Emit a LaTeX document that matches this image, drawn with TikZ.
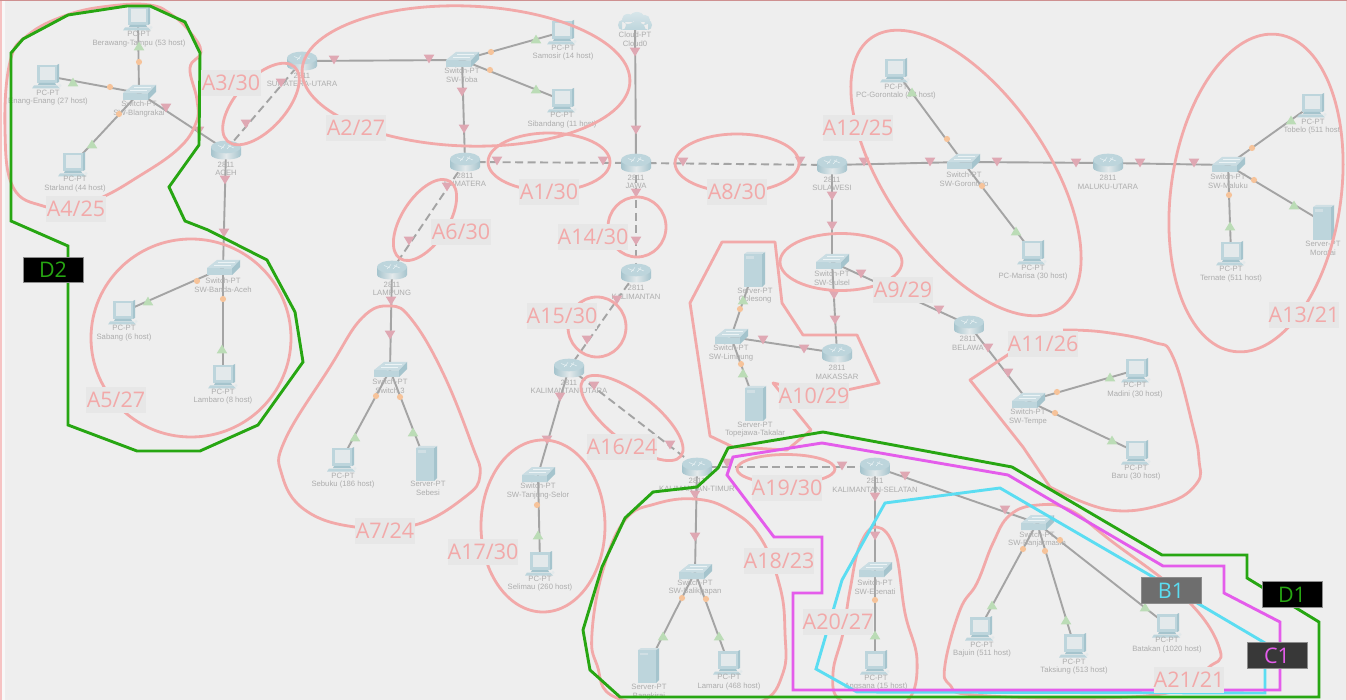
\documentclass[tikz,border=0pt]{standalone}
\usepackage{fontspec}
\setmainfont{Liberation Sans}
\newfontfamily\labfont{Open Sans}
\pgfdeclarelayer{bgl}\pgfdeclarelayer{linkl}\pgfsetlayers{bgl,linkl,main}
\definecolor{bgc}{HTML}{EEEEEE}
\definecolor{linkc}{HTML}{A4A4A4}
\definecolor{txtc}{HTML}{ADADAD}
\definecolor{pk}{HTML}{F2A9A9}
\definecolor{pkm}{HTML}{DFA8B3}
\definecolor{grm}{HTML}{BBDCB6}
\definecolor{orm}{HTML}{F6C39A}
\definecolor{grl}{HTML}{27A612}
\definecolor{mag}{HTML}{E45CEB}
\definecolor{cya}{HTML}{5BDDF2}
\definecolor{ic}{HTML}{BDD5DC}
\definecolor{icd}{HTML}{A5C4CD}
\definecolor{icl}{HTML}{E3E9EB}
\tikzset{
 devp/.style={inner sep=0pt,outer sep=0pt,minimum size=0pt},
 devt/.style={inner sep=0pt,text=txtc,align=center,font=\fontsize{7.7}{8.6}\selectfont},
 lnk/.style={draw=linkc,line width=1.9pt},
 dlnk/.style={lnk,dash pattern=on 8pt off 4.5pt},
 area/.style={draw=pk,line width=2.8pt,line join=round},
 zone/.style={line width=2.9pt,line join=miter},
 alab/.style={fill=black!3!bgc,text=pk,minimum width=60pt,minimum height=25.5pt,inner sep=0pt,font=\labfont\fontsize{21.5}{24}\selectfont},
 dlab/.style={minimum width=60pt,minimum height=25.5pt,inner sep=0pt,draw=black!45,line width=.6pt,font=\labfont\fontsize{21.5}{24}\selectfont},
 router/.pic={
  \path[left color=icd,right color=icd,middle color=icl] (-15,-3) -- (-15,5) arc[start angle=180,end angle=0,x radius=15,y radius=4.5] -- (15,-3) -- cycle;
  \path[fill=ic] (0,-3) circle[x radius=15,y radius=6.3];
  \draw[white!70!ic,line width=.5pt] (-8,-4.5) -- (-2,-2) (8,-2) -- (2,-4.5) (-5,-1) -- (-1,-5.5) (5,-5.5) -- (1,-1);
 },
 switchd/.pic={
  \path[fill=ic!80!white] (-16,0) -- (-6,-8) -- (17,-8) -- (9,0.5) -- cycle;
  \path[fill=ic] (-16,0) -- (9,0.5) -- (9,7) -- (-16,7) -- cycle;
  \path[fill=icd] (9,0.5) -- (17,-8) -- (17,-1) -- (9,7) -- cycle;
  \draw[white!70!ic,line width=.4pt] (-9,-3) -- (8,-3) (-5,-6) -- (12,-6);
 },
 pcd/.pic={
  \path[fill=icd] (10,-11) -- (12,-12) -- (12,6) -- (10,7) -- cycle;
  \path[fill=ic] (-10,-11) rectangle (10,7);
  \path[fill=icl] (-7.5,-8.5) rectangle (8,4);
  \path[fill=icd] (-8,7) -- (8,7) -- (9,9) -- (-9,9) -- cycle;
  \path[fill=ic] (-13,9.5) -- (10,9.5) -- (13,12.5) -- (-15,12.5) -- cycle;
  \path[fill=icl] (13,9.5) circle[radius=1.6];
 },
 srv/.pic={
  \path[fill=icd] (8,-15) -- (11,-17) -- (11,15) -- (8,18) -- cycle;
  \path[fill=icl!50!ic] (-10,-15) -- (-7,-17) -- (11,-17) -- (8,-15) -- cycle;
  \path[fill=ic] (-10,-15) rectangle (8,18);
  \path[fill=icl!50!ic] (-8,-12.5) rectangle (0,-10);
 },
 cloudd/.pic={
  \path[top color=ic!60!white,bottom color=ic] (-13,3) circle[x radius=4,y radius=5] (-7,-3) circle[x radius=6,y radius=5] (2,-5) circle[x radius=7,y radius=5] (10,-2) circle[radius=5] (13,3) circle[x radius=4,y radius=5] (-13,0) rectangle (13,8);
 }
}
\newcommand{\dev}[7]{\node[devp] (#2) at (#3,#4) {}; \pic at (#2) {#1}; \node[devt] (#2l) at (#5,#6) {#7};}
\begin{document}
\begin{tikzpicture}[x=1pt,y=-1pt]
\useasboundingbox (0,0) rectangle (1347,700);
\begin{pgfonlayer}{bgl}
\fill[bgc] (0,0) rectangle (1347,700);
\fill[white!60!bgc] (0,0) rectangle (5,700);
\fill[pk!70!white] (0,0) rectangle (1.5,700);
\fill[pk!70!white] (1345.5,0) rectangle (1347,700);
\fill[pk!85!black] (0,0) rectangle (1347,1);
\end{pgfonlayer}
% devices
\dev{pcd}{berawang}{138}{18}{139}{39}{PC-PT\\Berawang-Tampu (53 host)}
\dev{pcd}{enang}{47}{76}{48}{97.5}{PC-PT\\Enang-Enang (27 host)}
\dev{switchd}{blang}{139}{93}{139}{109}{Switch-PT\\SW-Blangrakai}
\dev{pcd}{starland}{73}{164}{75}{184}{PC-PT\\Starland (44 host)}
\dev{router}{aceh}{226}{150}{226}{169}{2811\\ACEH}
\dev{router}{sumut}{302}{61}{302}{80}{2811\\SUMATERA-UTARA}
\dev{switchd}{toba}{462}{60}{462}{75.5}{Switch-PT\\SW-Toba}
\dev{pcd}{samosir}{562}{32}{563}{52.5}{PC-PT\\Samosir (14 host)}
\dev{pcd}{sibandang}{562}{100}{562}{120}{PC-PT\\Sibandang (11 host)}
\dev{cloudd}{cloud}{635}{22}{635}{39}{Cloud-PT\\Cloud0}
\dev{router}{sumatera}{465}{162}{465}{180}{2811\\SUMATERA}
\dev{router}{java}{636}{163}{636}{182}{2811\\JAWA}
\dev{router}{sulawesi}{832}{165}{832}{184}{2811\\SULAWESI}
\dev{switchd}{gorontalo}{963}{162}{964}{179.5}{Switch-PT\\SW-Gorontalo}
\dev{pcd}{pcgor}{895}{70}{896}{91.5}{PC-PT\\PC-Gorontalo (93 host)}
\dev{pcd}{pcmarisa}{1032}{252}{1033}{272.5}{PC-PT\\PC-Marisa (30 host)}
\dev{router}{maluku}{1108}{163}{1108}{182.5}{2811\\MALUKU-UTARA}
\dev{switchd}{swmaluku}{1228}{165}{1228}{181.5}{Switch-PT\\SW-Maluku}
\dev{pcd}{tobelo}{1312}{105}{1313}{126.5}{PC-PT\\Tobelo (511 host)}
\dev{srv}{morotai}{1323}{222}{1323}{248.5}{Server-PT\\Morotai}
\dev{pcd}{ternate}{1231}{253}{1231}{274}{PC-PT\\Ternate (511 host)}
\dev{router}{lampung}{392}{270}{392}{289}{2811\\LAMPUNG}
\dev{switchd}{swtiga}{390}{370}{390}{386}{Switch-PT\\Switch 3}
\dev{pcd}{sebuku}{342}{459}{343}{480.5}{PC-PT\\Sebuku (186 host)}
\dev{srv}{sebesi}{426}{463}{428}{488.5}{Server-PT\\Sebesi}
\dev{switchd}{banda}{223}{268}{223}{285.5}{Switch-PT\\SW-Banda-Aceh}
\dev{pcd}{sabang}{123}{312}{124}{333}{PC-PT\\Sabang (6 host)}
\dev{pcd}{lambaro}{223}{376}{223}{396.5}{PC-PT\\Lambaro (8 host)}
\dev{router}{kalimantan}{636}{273}{636}{292.5}{2811\\KALIMANTAN}
\dev{router}{kalut}{569}{368}{569}{387}{2811\\KALIMANTAN-UTARA}
\dev{switchd}{tanjung}{538}{475}{538}{491}{Switch-PT\\SW-Tanjung-Selor}
\dev{pcd}{selimau}{540}{563}{540}{583.5}{PC-PT\\Selimau (260 host)}
\dev{srv}{golesong}{754}{269}{755}{295.5}{Server-PT\\Golesong}
\dev{switchd}{limbung}{731}{337}{731}{353}{Switch-PT\\SW-Limbung}
\dev{srv}{topejawa}{755}{403}{755}{429.5}{Server-PT\\Topejawa-Takalar}
\dev{switchd}{sulsel}{832}{262}{832}{278}{Switch-PT\\SW-Sulsel}
\dev{router}{makassar}{837}{353}{837}{372.5}{2811\\MAKASSAR}
\dev{router}{belawa}{969}{325}{968}{343.5}{2811\\BELAWA}
\dev{switchd}{tempe}{1028}{401}{1028}{417}{Switch-PT\\SW-Tempe}
\dev{pcd}{madini}{1136}{370}{1135}{390}{PC-PT\\Madini (30 host)}
\dev{pcd}{baru}{1136}{452}{1136}{472.5}{PC-PT\\Baru (30 host)}
\dev{router}{kaltim}{697}{467}{697}{485}{2811\\KALIMANTAN-TIMUR}
\dev{router}{kalsel}{875}{467}{875}{485.5}{2811\\KALIMANTAN-SELATAN}
\dev{switchd}{balik}{695}{572}{695}{587.5}{Switch-PT\\SW-Balikpapan}
\dev{srv}{bangkirai}{648}{665}{649}{692}{Server-PT\\Bangkirai}
\dev{pcd}{lamaru}{728}{662}{729}{682}{PC-PT\\Lamaru (468 host)}
\dev{switchd}{ebenati}{875}{570}{875}{587.5}{Switch-PT\\SW-Ebenati}
\dev{pcd}{angsana}{875}{662}{876}{682.5}{PC-PT\\Angsana (15 host)}
\dev{switchd}{banjar}{1037}{523}{1037}{539.5}{Switch-PT\\SW-Banjarmasin}
\dev{pcd}{bajuin}{980}{628}{982}{649.5}{PC-PT\\Bajuin (511 host)}
\dev{pcd}{taksiung}{1074}{645}{1074}{666.5}{PC-PT\\Taksiung (513 host)}
\dev{pcd}{batakan}{1167}{625}{1167}{645}{PC-PT\\Batakan (1020 host)}
% links
\begin{pgfonlayer}{linkl}
\foreach \a/\b in {blang/berawang,blang/enang,blang/starland,blang/aceh,aceh/banda,banda/sabang,banda/lambaro,sumut/toba,toba/samosir,toba/sibandang,toba/sumatera,lampung/swtiga,swtiga/sebuku,swtiga/sebesi,cloud/java,kalut/tanjung,tanjung/selimau,kaltim/balik,balik/bangkirai,balik/lamaru,kalsel/ebenati,ebenati/angsana,kalsel/banjar,banjar/bajuin,banjar/taksiung,banjar/batakan,sulawesi/gorontalo,gorontalo/pcgor,gorontalo/pcmarisa,gorontalo/maluku,maluku/swmaluku,swmaluku/tobelo,swmaluku/morotai,swmaluku/ternate,sulawesi/sulsel,sulsel/makassar,sulsel/belawa,makassar/limbung,limbung/golesong,limbung/topejawa,belawa/tempe,tempe/madini,tempe/baru}
 \draw[lnk] (\a) -- (\b);
\foreach \a/\b in {aceh/sumut,sumatera/java,sumatera/lampung,java/sulawesi,java/kalimantan,kalimantan/kalut,kalut/kaltim,kaltim/kalsel}
 \draw[dlnk] (\a) -- (\b);
\end{pgfonlayer}
% markers
\foreach \x/\y in {166/108,199/131,281/83,246/124,225/180,224/233,334/60,429/59,462/92,464/129,497/161,603/161,447/187,409/241,635/52,636/130,636/193,636/241,683/162,800/161,864/162,930/162,997/162,1076/163,1140/163,1194/163,391/301,390/335,617/300,587/340,560/397,547/440,594/386,670/445,695/495,695/537,727/463,842/466,905/476,875/497,875/536,1005/510,832/196,832/226,834/295,835/320,861/274,939/310,804/349,763/340,988/348,1008/373}
 \fill[pkm] (\x-5.3,\y-4.4) -- (\x+5.3,\y-4.4) -- (\x,\y+4.4) -- cycle;
\foreach \x/\y in {139/46,73/82,92/144,536/39,536/89,912/92,1016/231,1291/120,1294/205,1230/226,148/301,222/349,355/437,413/432,538/535,663/636,719/636,875/635,992/605,1066/620,1145/607,743/300,743/373,1110/377,1112/440}
 \fill[grm] (\x-5.3,\y+4.4) -- (\x+5.3,\y+4.4) -- (\x,\y-4.4) -- cycle;
\foreach \x/\y in {139/62,110/87,119/114,491/52,490/70,947/139,982/186,1252/148,1254/180,1229/195,197/281,223/299,376/396,400/397,537/505,682/598,706/599,875/600,1023/549,1045/551,1060/540,740/309,741/364,1057/392,1055/413}
 \fill[orm] (\x,\y) circle[radius=3.1];
% area outlines
\draw[area] plot[smooth cycle,tension=.7] coordinates {(150,5)(172,15)(190,32)(201,52)(190,68)(197,100)(196,123)(177,150)(133,180)(103,197)(76,208)(43,206)(13,187)(5,130)(10,62)(28,35)(67,15)(110,6)};
\draw[area] (261,104) circle[x radius=50,y radius=25,rotate=48];
\draw[area] (466,76) circle[x radius=164,y radius=70,rotate=-2];
\draw[area] (549,162) circle[x radius=61,y radius=29];
\draw[area] (737,163) circle[x radius=62,y radius=29];
\draw[area] (425,220) circle[x radius=46,y radius=23,rotate=57];
\draw[area] (637,227) circle[x radius=29,y radius=30];
\draw[area] (597,327) circle[x radius=29,y radius=30];
\draw[area] (632,418) circle[x radius=62,y radius=24,rotate=-38];
\draw[area] (786,469) circle[x radius=49,y radius=14.5];
\draw[area] (841,262) circle[x radius=61,y radius=28.5];
\draw[area] (191,338) circle[x radius=100,y radius=99];
\draw[area] (543,526) circle[x radius=62,y radius=86];
\draw[area] (1256,193) circle[x radius=160,y radius=85,rotate=82];
\draw[area] (966,173) circle[x radius=165,y radius=80,rotate=-55];
\draw[area] plot[smooth cycle,tension=.7] coordinates {(390,306)(412,320)(443,373)(472,445)(480,475)(465,497)(415,525)(355,527)(305,510)(282,475)(285,440)(330,367)(362,318)};
\draw[area] plot[smooth cycle,tension=.7] coordinates {(695,499)(730,510)(760,537)(780,587)(785,633)(783,673)(760,702)(700,706)(617,698)(597,665)(592,633)(603,570)(625,520)(655,504)};
\draw[area] plot[smooth cycle,tension=.7] coordinates {(877,527)(895,550)(905,613)(917,660)(908,700)(875,704)(840,700)(833,673)(843,633)(850,590)(860,545)};
\draw[area] plot[smooth cycle,tension=.7] coordinates {(1038,505)(1070,510)(1110,540)(1187,600)(1220,650)(1208,668)(1180,690)(1100,698)(975,695)(950,685)(945,665)(960,610)(977,583)(993,543)(1010,515)};
\draw[area] (775,242) -- (722,242) -- (690,303) -- (710,436) -- (733,447) -- (787,450) -- (811,430) -- (773,383) -- (810,391) -- (847,390) -- (879,383) -- (857,335) -- (803,335) -- (782,303) -- cycle;
\draw[area] (1012,352) -- (970,380) -- (1023,447) -- (1050,487) plot[smooth,tension=.7] coordinates {(1050,487)(1110,510)(1167,503)(1197,483)(1199,460)(1193,427)(1173,357)(1153,342)(1103,332)(1063,330)};
% zones
\draw[zone,grl] (11,53) -- (23,39) -- (68,15) -- (127,6) -- (150,6) -- (185,22) -- (200,53) -- (199,145) -- (169,187) -- (185,221) -- (208,230) -- (267,260) -- (295,312) -- (303,362) -- (258,425) -- (200,451) -- (137,451) -- (68,425) -- (68,246) -- (11,221) -- cycle;
\draw[zone,grl] (583,630) -- (602,567) -- (625,518) -- (653,492) -- (697,487) -- (718,468) -- (728,448) -- (823,432) -- (1012,467) -- (1162,555) -- (1247,555) -- (1247,578) -- (1319,622) -- (1319,697) -- (620,697) -- (590,670) -- cycle;
\draw[zone,cya] (885,503) -- (1000,488) -- (1153,577) -- (1265,643) -- (1265,693) -- (857,692) -- (816,669) -- (842,580) -- cycle;
\draw[zone,mag] (733,457) -- (822,443) -- (1008,475) -- (1163,566) -- (1224,566) -- (1224,593) -- (1280,622) -- (1280,690) -- (793,690) -- (793,593) -- (822,593) -- (822,537) -- (774,537) -- (727,475) -- cycle;
% area labels
\node[alab] (a4) at (76,209) {A4/25};
\node[alab] (a3) at (231,83) {A3/30};
\node[alab] (a2) at (356,128) {A2/27};
\node[alab] (a1) at (549,192) {A1/30};
\node[alab] (a6) at (461,232) {A6/30};
\node[alab] (a14) at (593,237) {A14/30};
\node[alab] (a8) at (737,192) {A8/30};
\node[alab] (a12) at (858,128) {A12/25};
\node[alab] (a13) at (1304,315) {A13/21};
\node[alab] (a9) at (903,290) {A9/29};
\node[alab] (a11) at (1043,344) {A11/26};
\node[alab] (a10) at (814,396) {A10/29};
\node[alab] (a15) at (562,316) {A15/30};
\node[alab] (a16) at (622,447) {A16/24};
\node[alab] (a17) at (483,552) {A17/30};
\node[alab] (a7) at (385,531) {A7/24};
\node[alab] (a5) at (116,400) {A5/27};
\node[alab] (a18) at (779,561) {A18/23};
\node[alab] (a19) at (787,488) {A19/30};
\node[alab] (a20) at (838,622) {A20/27};
\node[alab] (a21) at (1189,680) {A21/21};
% zone labels
\node[dlab,fill=black,text=grl] (d2) at (53,270) {D2};
\node[dlab,fill=black,text=grl] (d1) at (1292,594.5) {D1};
\node[dlab,fill=black!57!white,text=cya] (b1) at (1171,590.5) {B1};
\node[dlab,fill=black!78!white,text=mag] (c1) at (1277,655.5) {C1};
\end{tikzpicture}
\end{document}
